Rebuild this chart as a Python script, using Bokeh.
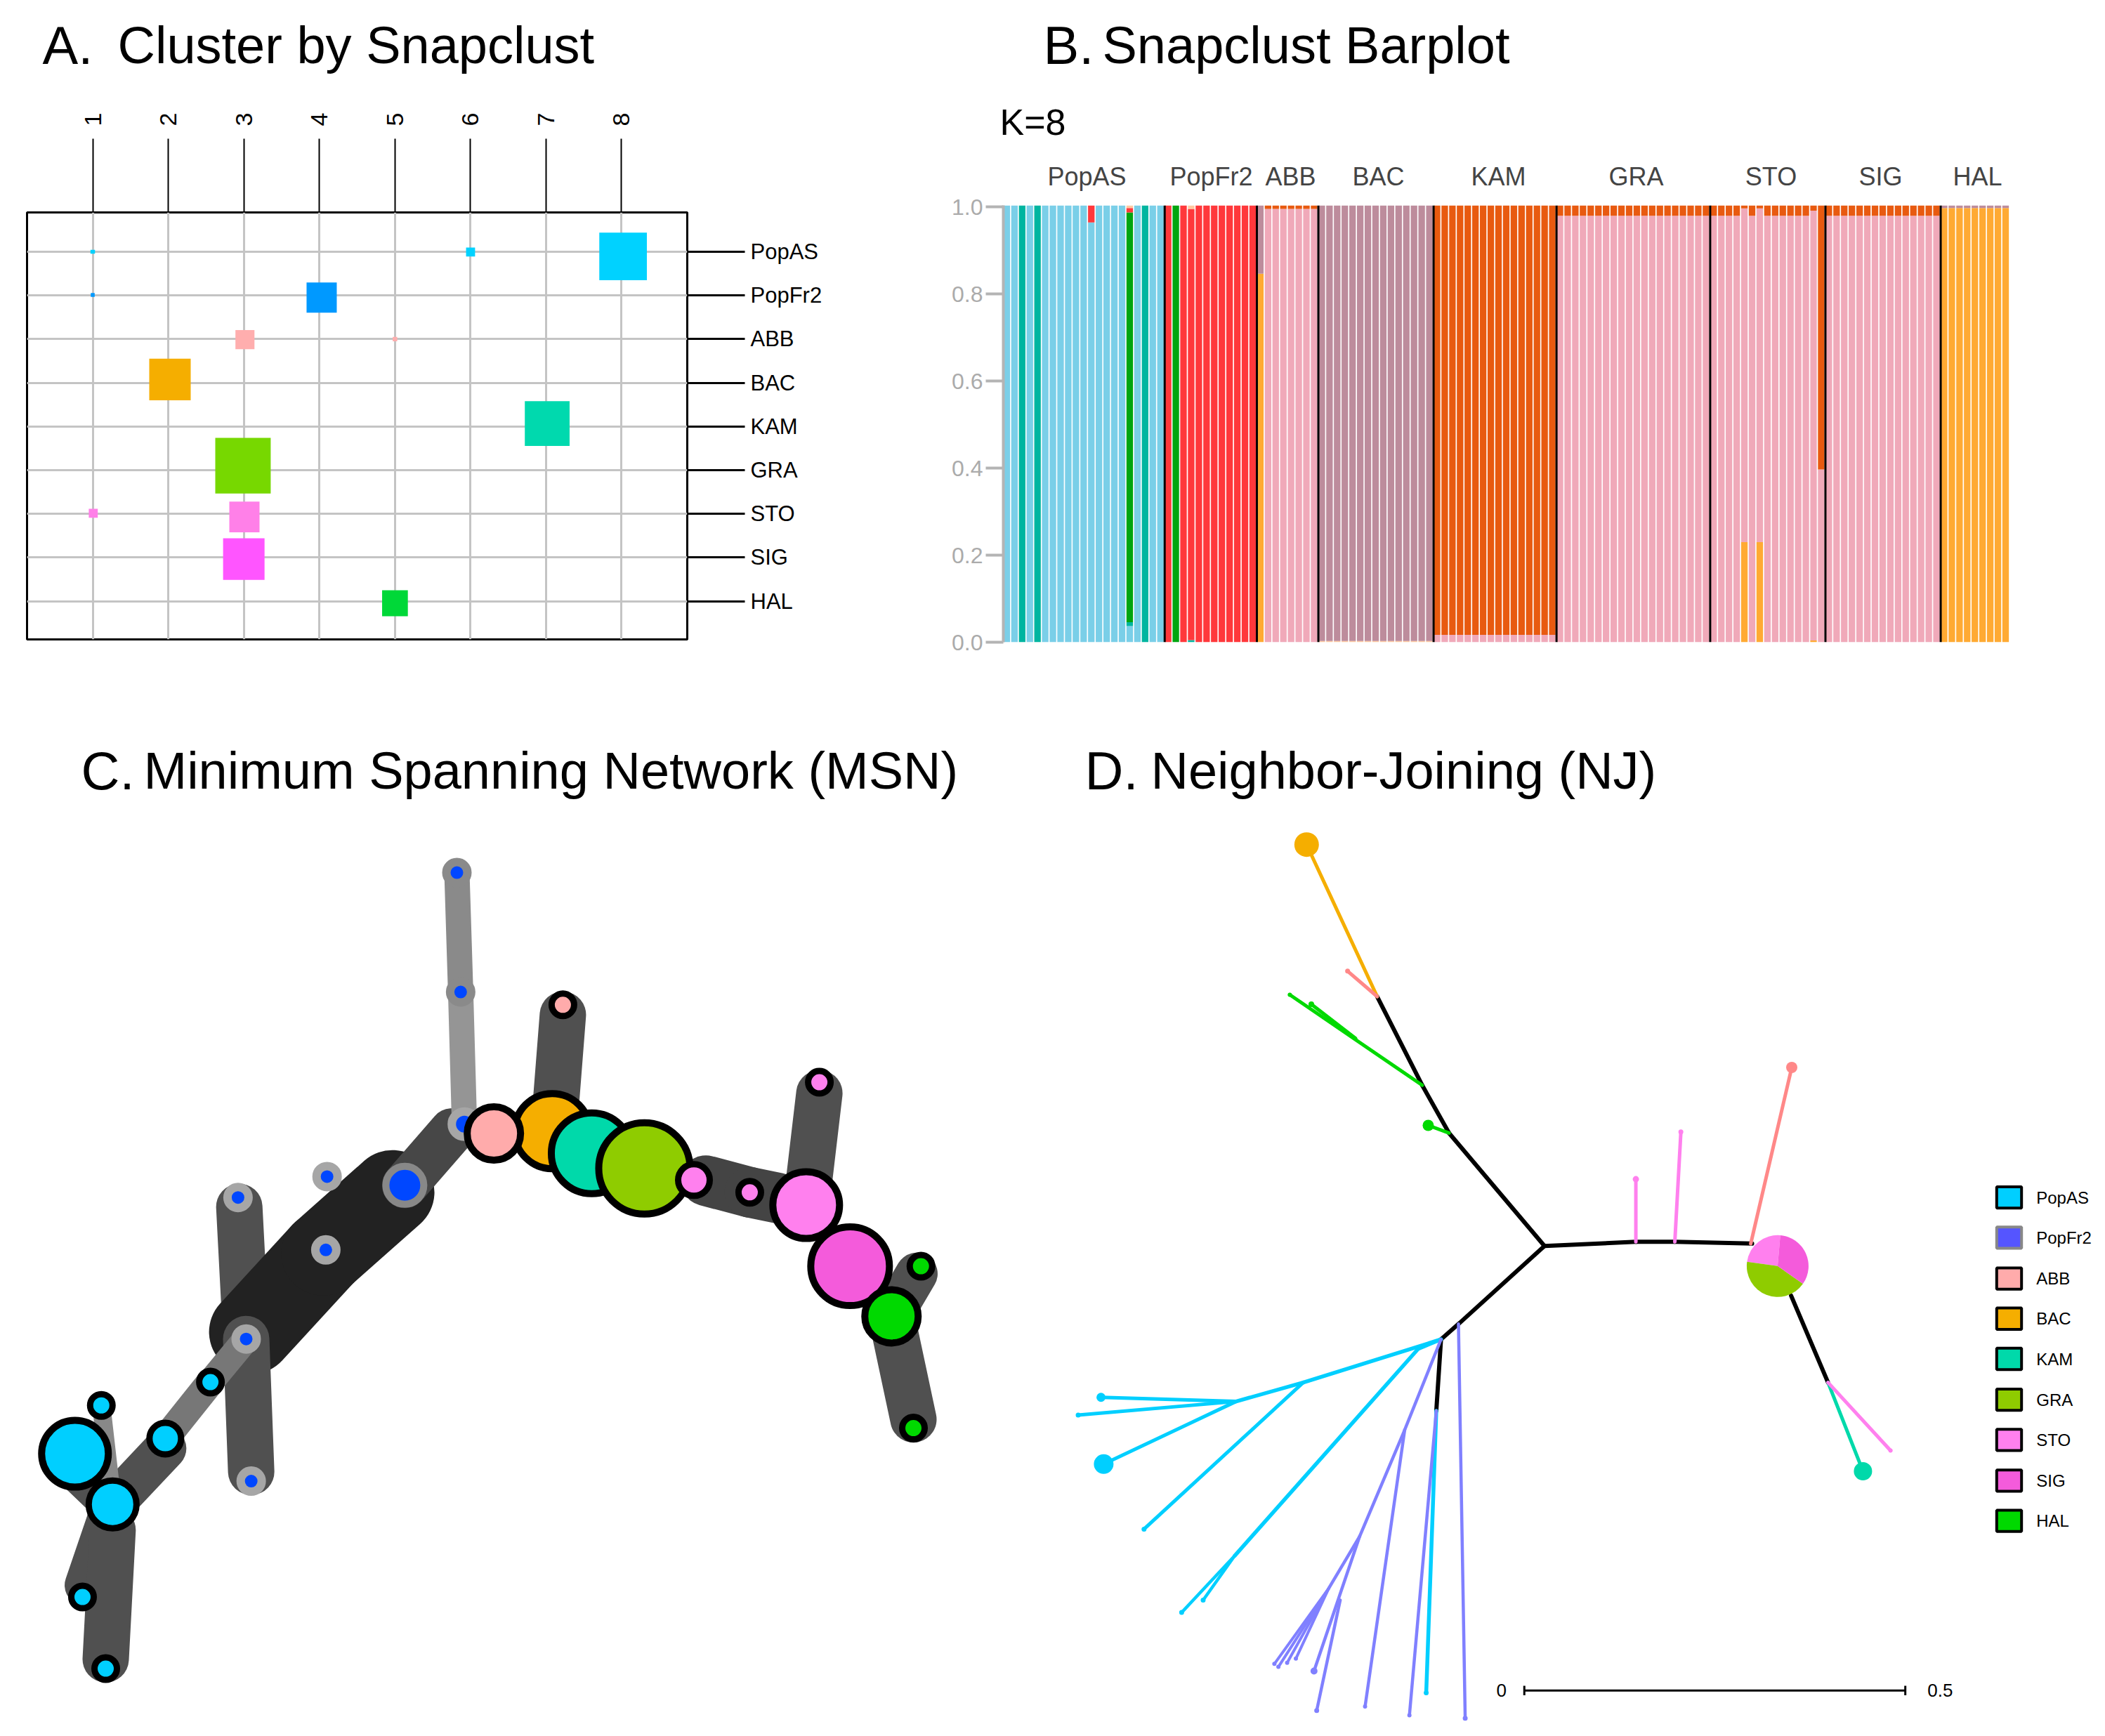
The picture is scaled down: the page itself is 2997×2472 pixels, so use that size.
from bokeh.plotting import figure
from bokeh.layouts import column, row
from bokeh.models import (Range1d, LinearAxis, FixedTicker, Grid, Label)
from bokeh.embed import file_html
from bokeh.resources import INLINE
from math import radians

SANS = "Liberation Sans"

# ---------- A. cluster table ----------
pop_names = ["PopAS", "PopFr2", "ABB", "BAC", "KAM", "GRA", "STO", "SIG", "HAL"]
cluster_names = ["1", "2", "3", "4", "5", "6", "7", "8"]
sq_cluster = [8.024, 1.0, 6.004, 1.0, 4.032, 3.016, 5.003, 2.023, 7.019, 2.990, 1.007, 3.009, 3.001, 5.003]
sq_pop = [1.107, 1.0, 1.005, 1.989, 2.048, 3.013, 3.0, 3.924, 4.933, 5.898, 6.989, 7.072, 8.037, 9.046]
sq_w = [.63, .06, .119, .052, .40, .252, .06, .549, .593, .734, .119, .40, .549, .341]
sq_h = [1.092, .09, .205, .088, .692, .439, .10, .955, 1.023, 1.277, .205, .702, .955, .595]
sq_color = ["#00D2FF", "#00D2FF", "#00D2FF", "#0099FF", "#0099FF", "#FFAEAE", "#FFAEAE", "#F5AE00",
            "#00D9AE", "#77D800", "#FF80E8", "#FF80E8", "#FF55FF", "#00D838"]

# ---------- B. bar plot ----------
BLUE, TEAL, GREEN, RED, PINK, MAUVE, RUST, ORANGE, PALE = (
    "#7ACFE8", "#00B5A0", "#00A510", "#FF383B", "#F0A9B9", "#BD8C9C", "#E85A10", "#FFAA33", "#FFC9A0")
bar_pop_sizes = [21, 12, 8, 15, 16, 20, 15, 15, 9]
bar_defaults = [
    [(BLUE, 1.004)],
    [(RED, 1.004)],
    [(PINK, .996), (RUST, 1.004)],
    [(PALE, .003), (MAUVE, 1.004)],
    [(PINK, .017), (RUST, 1.004)],
    [(PINK, .98), (RUST, 1.004)],
    [(PINK, .98), (RUST, 1.004)],
    [(PINK, .98), (RUST, 1.004)],
    [(ORANGE, .998), (MAUVE, 1.004)],
]
bar_special = {
    (0, 2): [(TEAL, 1.004)],
    (0, 4): [(TEAL, 1.004)],
    (0, 11): [(BLUE, .965), (RED, 1.004)],
    (0, 16): [(BLUE, .037), (TEAL, .046), (GREEN, .988), (RED, .998), (PALE, 1.004)],
    (0, 18): [(TEAL, 1.004)],
    (1, 1): [(GREEN, 1.004)],
    (1, 3): [(TEAL, .005), (RED, .996), (PALE, 1.004)],
    (2, 0): [(ORANGE, .847), (MAUVE, 1.004)],
    (6, 4): [(ORANGE, .23), (PINK, .997), (RUST, 1.004)],
    (6, 6): [(ORANGE, .23), (PINK, .997), (RUST, 1.004)],
    (6, 13): [(ORANGE, .004), (PINK, .992), (RUST, 1.004)],
    (6, 14): [(PINK, .397), (RUST, 1.004)],
}
bar_label_x = [1547, 1724, 1837, 1962, 2133, 2329, 2521, 2677, 2815]
bar_ticks = [0, .2, .4, .6, .8, 1.0]
bar_tick_labels = ["0.0", "0.2", "0.4", "0.6", "0.8", "1.0"]

# ---------- C. minimum spanning network ----------
edge_x0 = [381, 400, 515, 645, 728, 734, 392, 897, 392, 335, 263, 125, 161, 179, 179, 1125, 1195, 1285, 1285, 1421, 1421, 1355]
edge_y0 = [685, 900, 765, 648, 111, 316, 912, 355, 912, 986, 1100, 1140, 1026, 1196, 1240, 640, 660, 682, 682, 873, 873, 787]
edge_x1 = [392, 515, 625, 720, 734, 740, 400, 885, 335, 263, 179, 179, 179, 135, 168, 1195, 1240, 1306, 1355, 1461, 1456, 1421]
edge_y1 = [912, 765, 660, 555, 316, 543, 1140, 520, 986, 1083, 1196, 1196, 1196, 1335, 1462, 660, 670, 490, 787, 800, 1050, 873]
edge_w = [66, 120, 120, 65, 36, 36, 66, 66, 38, 40, 60, 60, 26, 58, 66, 72, 72, 66, 30, 60, 66, 40]
edge_color = ["#505050", "#222222", "#222222", "#474747", "#8A8A8A", "#959595", "#505050", "#505050",
              "#777777", "#777777", "#505050", "#505050", "#888888", "#505050", "#505050", "#444444",
              "#444444", "#505050", "#505050", "#505050", "#505050", "#505050"]
node_x = [728, 734, 740, 645, 521, 519, 379, 392, 400,
          335, 263, 161, 119, 179, 131, 168,
          897, 880, 787, 943, 1027, 1106, 1195, 1306, 1285, 1355, 1421, 1468, 1456]
node_y = [111, 316, 543, 648, 633, 759, 669, 912, 1156,
          986, 1083, 1026, 1109, 1196, 1355, 1478,
          338, 555, 559, 593, 619, 639, 660, 471, 682, 787, 873, 787, 1065]
node_size = [30, 30, 36, 54, 30, 30, 30, 30, 30,
             32, 45, 32, 95, 68, 32, 32,
             32, 107, 76, 115, 130, 45, 32, 32, 95, 112, 76, 32, 32]
node_lw = [12, 12, 12, 10, 12, 12, 12, 12, 12,
           9, 9, 9, 10, 9, 9, 9,
           9, 10, 10, 10, 10, 9, 9, 9, 10, 10, 10, 9, 9]
GR1, GR2, K = "#8A8A8A", "#A6A6A6", "#000000"
node_line = [GR1, GR1, GR2, "#888888", GR2, GR2, GR2, GR2, GR2] + [K] * 20
NB, NC, NS, NO, NT, NG, NP, NM, NH = ("#0047FF", "#00CFFF", "#FFABAB", "#F5AE00", "#00D9AA",
                                      "#8FCC00", "#FF80EE", "#F45BDB", "#00D900")
node_fill = [NB] * 9 + [NC] * 7 + [NS, NO, NS, NT, NG, NP, NP, NP, NP, NM, NH, NH, NH]

# ---------- D. neighbor-joining tree ----------
PERI = "#8080FF"
CY = "#00CFFF"
SAL = "#FF8888"
PNK = "#FF80EE"
HG = "#00D900"
tree_x0 = [751, 609, 569, 751, 887, 945, 1118, 751, 623, 597,
           502, 502, 569, 470, 609, 887, 945, 1058, 1173, 1173,
           623, 590, 590, 597, 392, 292, 292, 292, 392, 597, 563, 290, 290,
           597, 543, 543, 476, 430, 430, 430, 430, 476, 447]
tree_y0 = [741, 550, 469, 741, 734, 734, 825, 741, 873, 899,
           319, 319, 469, 390, 550, 734, 734, 737, 972, 972,
           873, 1020, 1020, 899, 972, 1004, 1004, 1004, 972, 899, 915, 1265, 1265,
           899, 1052, 1052, 1232, 1320, 1320, 1320, 1320, 1232, 1340]
tree_x1 = [609, 569, 502, 887, 945, 1060, 1173, 623, 597, 590,
           397, 458, 372, 404, 578, 887, 954, 1119, 1225, 1266,
           633, 575, 550, 392, 292, 91, 57, 95, 155, 563, 290, 211, 243,
           543, 484, 476, 430, 349, 355, 368, 381, 408, 412]
tree_y1 = [550, 469, 319, 734, 734, 737, 972, 873, 899, 1020,
           62, 276, 316, 332, 537, 628, 548, 439, 1122, 1087,
           1540, 1497, 1535, 972, 1004, 997, 1027, 1110, 1220, 915, 1265, 1361, 1340,
           1052, 1520, 1232, 1320, 1448, 1453, 1446, 1439, 1460, 1527]
tree_w = [6, 6, 6, 6, 6, 6, 6, 6, 6, 6,
          5, 5, 5, 5, 5, 5, 5, 5, 5, 5,
          4.5, 5.5, 4.5, 5.5, 5.5, 5, 5, 5, 5, 5.5, 5.5, 4.5, 4.5,
          4.5, 4.5, 4.5, 4.5, 4, 4, 4, 4, 4.5, 4.5]
tree_color = [K] * 10 + ["#F5AE00", SAL, HG, HG, HG, PNK, PNK, SAL, "#00D9AA", PNK,
                         PERI, CY, PERI] + [CY] * 10 + [PERI] * 10
tip_x = [397, 458, 372, 404, 578, 887, 954, 1119, 1225, 1266, 633, 575, 550, 91, 57, 95, 155, 211, 243, 484, 349, 355, 368, 381, 408, 412]
tip_y = [62, 276, 316, 332, 537, 628, 548, 439, 1122, 1087, 1540, 1497, 1535, 997, 1027, 1110, 1220, 1361, 1340, 1520, 1448, 1453, 1446, 1439, 1460, 1527]
tip_size = [35, 7, 6, 8, 16, 9, 7, 16, 26, 6, 7, 7, 6, 13, 7, 28, 7, 7, 7, 6, 6, 6, 6, 6, 10, 7]
tip_color = ["#F5AE00", SAL, HG, HG, HG, PNK, PNK, SAL, "#00D9AA", PNK, PERI, CY, PERI, CY, CY, CY, CY, CY, CY, PERI,
             PERI, PERI, PERI, PERI, PERI, PERI]
pie_sectors = [85, 172, 325, 445]
pie_colors = [NP, NG, NM]
legend_y = [659, 727, 796, 864, 932, 1001, 1069, 1138, 1206]
legend_fill = [NC, "#5555FF", "#FFABAB", NO, NT, NG, NP, NM, NH]
legend_line = [K, "#888888", K, K, K, K, K, K, K]


def label(p, x, y, text, size, color="black", align="left", base="alphabetic"):
    p.add_layout(Label(x=x, y=y, text=text, text_font=SANS, text_font_size=f"{size}px",
                       text_color=color, text_align=align, text_baseline=base))


def blank(**kw):
    p = figure(output_backend="svg", toolbar_location=None, x_axis_location=None,
               y_axis_location=None, **kw)
    p.grid.visible = False
    p.outline_line_color = None
    return p


def strip(x0, x1, y0, y1):
    return blank(width=x1 - x0, height=y1 - y0, min_border=0,
                 x_range=Range1d(x0, x1), y_range=Range1d(y1, y0))


BOT_H = 2456 - 1020

# ---------- panel A ----------
head_a = strip(0, 1340, 0, 120)
label(head_a, 60, 64, "A.", 76)
label(head_a, 167, 64, "Cluster by Snapclust", 74)

pa = blank(width=1340, height=900, min_border_left=38, min_border_right=362, min_border_top=182,
           min_border_bottom=110, x_range=Range1d(0.130, 8.874), y_range=Range1d(9.876, 0.1))
pa.outline_line_color = "black"
pa.outline_line_width = 3
xt = FixedTicker(ticks=list(range(1, 9)))
yt = FixedTicker(ticks=list(range(1, 10)))
pa.add_layout(Grid(dimension=0, ticker=xt, grid_line_color="#C4C4C4", grid_line_width=3))
pa.add_layout(Grid(dimension=1, ticker=yt, grid_line_color="#C4C4C4", grid_line_width=3))
ax_top = LinearAxis(ticker=xt, major_label_overrides={i + 1: n for i, n in enumerate(cluster_names)},
                    major_tick_out=105, major_tick_in=0, major_tick_line_width=2, minor_tick_line_color=None,
                    axis_line_color=None, major_label_orientation="vertical", major_label_standoff=18,
                    major_label_text_font=SANS, major_label_text_font_size="34px", major_label_text_color="black")
pa.add_layout(ax_top, "above")
ax_right = LinearAxis(ticker=yt, major_label_overrides={i + 1: n for i, n in enumerate(pop_names)},
                      major_tick_out=82, major_tick_in=0, major_tick_line_width=3, minor_tick_line_color=None,
                      axis_line_color=None, major_label_standoff=8, major_label_orientation="horizontal",
                      major_label_text_font=SANS, major_label_text_font_size="31px",
                      major_label_text_color="black")
pa.add_layout(ax_right, "right")
pa.rect(sq_cluster, sq_pop, width=sq_w, height=sq_h, fill_color=sq_color, line_color=None)

# ---------- panel B ----------
head_b = strip(1340, 2981, 0, 276)
for xp, name in zip(bar_label_x, pop_names):
    label(head_b, xp, 251, name, 36, color="#444444", align="center", base="middle")
label(head_b, 1423, 173, "K=8", 52, base="middle")
label(head_b, 1485, 64, "B.", 76)
label(head_b, 1569, 64, "Snapclust Barplot", 74)

pb = blank(width=1641, height=744, min_border_left=88, min_border_right=120, min_border_top=16,
           min_border_bottom=106, x_range=Range1d(0, 131), y_range=Range1d(0, 1.004))
ax_b = LinearAxis(ticker=FixedTicker(ticks=bar_ticks),
                  major_label_overrides={t: s for t, s in zip(bar_ticks, bar_tick_labels)},
                  major_tick_out=25, major_tick_in=0, major_tick_line_width=4, major_tick_line_color="#B4B4B4",
                  minor_tick_line_color=None, axis_line_color="#B4B4B4", axis_line_width=4,
                  major_label_standoff=4, major_label_orientation="horizontal",
                  major_label_text_font=SANS, major_label_text_font_size="32px",
                  major_label_text_color="#ABABAB")
pb.add_layout(ax_b, "left")
bx, bb, bt, bc = [], [], [], []
idx = 0
bounds = []
for g, n in enumerate(bar_pop_sizes):
    for i in range(n):
        low = 0
        for col, high in bar_special.get((g, i), bar_defaults[g]):
            bx.append(idx + i + .45)
            bb.append(low)
            bt.append(high)
            bc.append(col)
            low = high
    idx += n
    bounds.append(idx)
pb.vbar(x=bx, bottom=bb, top=bt, width=.85, fill_color=bc, line_color=None)
pb.segment(x0=bounds[:-1], y0=[0] * 8, x1=bounds[:-1], y1=[1.004] * 8, line_color="black", line_width=3)

# ---------- panel C ----------
cx, cy = 1.12, 1.206
pc = blank(width=1470, height=BOT_H, min_border=0,
           x_range=Range1d(0, 1470 * cx), y_range=Range1d((2456 - 1150) * cy, (1020 - 1150) * cy))
pc.segment(edge_x0, edge_y0, edge_x1, edge_y1, line_color=edge_color, line_width=edge_w, line_cap="round")
pc.scatter(node_x, node_y, size=node_size, fill_color=node_fill, line_color=node_line, line_width=node_lw)
label(pc, 115 * cx, (1097 - 1150) * cy, "C.", 76)
label(pc, 204 * cx, (1097 - 1150) * cy, "Minimum Spanning Network (MSN)", 74)

# ---------- panel D ----------
dx, dy = 1.0453, 1.188
pd = blank(width=1511, height=BOT_H, min_border=0,
           x_range=Range1d((1470 - 1480) * dx, (2981 - 1480) * dx),
           y_range=Range1d((2456 - 1150) * dy, (1020 - 1150) * dy))
pd.segment(tree_x0, tree_y0, tree_x1, tree_y1, line_color=tree_color, line_width=tree_w, line_cap="round")
pd.scatter(tip_x, tip_y, size=tip_size, fill_color=tip_color, line_color=None)
pd.wedge(x=[1098] * 3, y=[775] * 3, radius=44, radius_units="screen",
         start_angle=[radians(a) for a in pie_sectors[:-1]], end_angle=[radians(a) for a in pie_sectors[1:]],
         fill_color=pie_colors, line_color=None)
pd.segment([721, 721, 1288], [1493, 1485, 1485], [1288, 721, 1288], [1493, 1501, 1501],
           line_color="black", line_width=3)
label(pd, 687, 1493, "0", 26, align="center", base="middle")
label(pd, 1340, 1493, "0.5", 26, align="center", base="middle")
pd.rect([1442.5] * 9, legend_y, width=37, height=36, fill_color=legend_fill, line_color=legend_line, line_width=4)
for ly, name in zip(legend_y, pop_names):
    label(pd, 1483, ly, name, 24, base="middle")
label(pd, (1544 - 1480) * dx, (1097 - 1150) * dy, "D.", 76)
label(pd, (1638 - 1480) * dx, (1097 - 1150) * dy, "Neighbor-Joining (NJ)", 74)

left_top = column(row(head_a, spacing=0), row(pa, spacing=0), spacing=0)
right_top = column(row(head_b, spacing=0), row(pb, spacing=0), spacing=0)
page = column(row(left_top, right_top, spacing=0), row(pc, pd, spacing=0), spacing=0)
open("out.html", "w").write(file_html(page, INLINE))
